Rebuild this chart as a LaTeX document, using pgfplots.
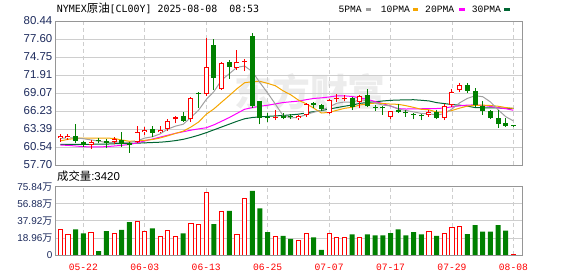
\documentclass[border=0pt]{standalone}
\usepackage{fontspec}
\setmainfont{Liberation Sans}
\newfontfamily\cjk{Noto Sans CJK SC}
\newfontfamily\mono{Liberation Mono}
\newfontfamily\tmono{DejaVu Sans Mono}
\usepackage{pgfplots}
\usepackage{pgfplotstable}
\pgfplotsset{compat=1.18}

\definecolor{kred}{RGB}{255,0,0}
\definecolor{kgreen}{RGB}{0,128,0}
\definecolor{maA}{RGB}{160,160,160}
\definecolor{maB}{RGB}{245,166,0}
\definecolor{maC}{RGB}{255,0,255}
\definecolor{maD}{RGB}{0,102,51}
\definecolor{framec}{RGB}{150,150,150}
\definecolor{gridc}{RGB}{206,206,206}
\definecolor{tickc}{RGB}{28,42,92}

\pgfplotstableread{
i O H L C
0 62.01 62.59 61.38 62.33
1 62.01 62.54 61.65 62.33
4 60.81 61.65 60.23 61.28
7 61.33 62.17 61.01 61.76
10 61.38 63.86 61.22 62.96
11 62.91 63.75 62.44 63.23
13 62.86 63.86 62.70 63.23
14 63.34 64.92 63.12 64.69
15 64.92 65.44 64.28 65.23
17 64.92 68.39 64.54 68.23
19 68.91 77.76 68.60 73.13
21 69.75 73.97 69.54 73.81
23 73.02 75.86 72.70 73.97
24 73.97 74.36 72.54 74.17
28 65.07 66.38 64.80 65.23
31 65.07 65.60 64.80 65.44
32 65.60 67.44 65.33 67.33
35 65.86 68.12 65.75 67.96
36 68.12 68.86 67.69 68.33
37 68.12 68.75 67.80 68.33
39 67.69 68.75 66.70 68.67
43 65.33 66.28 64.92 66.23
48 65.60 66.38 65.33 66.02
50 65.12 67.28 64.80 66.97
51 67.17 69.75 66.91 69.23
52 69.54 70.60 69.28 70.33
}\redC

\pgfplotstableread{
i O H L C
2 62.28 64.17 61.13 61.54
3 61.33 61.44 60.59 60.81
5 61.65 62.01 61.13 61.44
6 61.49 61.85 60.34 61.13
8 61.65 62.96 60.59 61.01
9 61.22 61.33 59.64 60.81
12 63.34 63.86 62.17 62.80
16 65.44 66.12 64.54 64.69
18 69.07 69.23 66.65 68.91
20 76.65 77.55 69.54 71.49
22 74.01 74.28 71.33 73.22
25 78.07 78.54 66.70 67.02
26 67.76 67.86 64.13 65.12
27 65.33 65.96 64.54 65.07
29 65.48 65.86 64.92 65.07
30 65.48 65.75 64.92 65.23
33 67.44 67.65 66.70 67.13
34 67.17 67.33 66.23 66.49
38 68.28 68.49 66.38 66.86
40 68.75 69.65 66.78 66.94
41 66.91 67.17 66.28 66.70
42 66.81 67.02 65.60 66.65
44 66.38 67.28 65.96 66.12
45 66.12 66.38 65.33 65.86
46 65.75 65.96 64.92 65.60
47 65.48 65.75 64.80 65.39
49 66.02 66.38 64.96 65.07
53 70.33 70.60 69.07 69.43
54 69.43 69.81 66.91 67.17
55 67.02 67.76 65.60 66.28
56 66.23 66.38 64.96 65.12
57 65.17 66.38 63.59 64.17
58 64.33 65.17 63.70 63.91
59 63.86 63.86 63.81 63.81
}\greenC

\pgfplotstableread{
i m5 m10 m20 m30
0 61.90 61.50 60.85 60.95
1 62.00 61.75 60.80 60.95
2 62.00 61.90 60.70 60.95
3 61.85 61.95 60.60 60.95
4 61.66 61.95 60.55 60.97
5 61.48 61.95 60.55 61.00
6 61.24 61.95 60.60 61.00
7 61.28 61.90 60.70 61.05
8 61.32 61.65 60.80 61.10
9 61.23 61.44 60.95 61.10
10 61.53 61.51 61.20 61.15
11 61.95 61.60 61.50 61.20
12 62.16 61.72 61.80 61.25
13 62.61 61.97 62.10 61.30
14 63.38 62.31 62.40 61.40
15 63.84 62.69 62.70 61.55
16 64.13 63.04 62.95 61.75
17 65.21 63.69 63.20 62.05
18 66.35 64.48 63.40 62.40
19 68.04 65.71 63.58 62.80
20 69.29 66.56 64.04 63.25
21 71.11 67.62 64.61 63.70
22 72.11 68.66 65.19 64.15
23 73.12 69.74 65.85 64.60
24 73.33 70.69 66.50 65.00
25 72.44 70.86 66.77 65.20
26 70.70 70.91 66.97 65.30
27 69.07 70.59 67.14 65.38
28 67.32 70.22 67.35 65.45
29 65.50 69.42 67.56 65.52
30 65.14 68.79 67.68 65.62
31 65.21 67.95 67.79 65.72
32 65.66 67.37 68.01 65.92
33 66.04 66.68 68.21 66.13
34 66.32 65.91 68.30 66.30
35 66.87 66.01 68.44 66.52
36 67.45 66.33 68.62 66.76
37 67.65 66.65 68.62 66.98
38 67.59 66.82 68.52 67.17
39 68.03 67.18 68.30 67.43
40 67.83 67.35 68.07 67.57
41 67.50 67.47 67.71 67.68
42 67.16 67.41 67.39 67.81
43 67.04 67.32 67.00 67.91
44 66.53 67.28 66.60 67.96
45 66.31 67.07 66.54 67.98
46 66.09 66.80 66.56 68.01
47 65.84 66.50 66.58 67.92
48 65.80 66.42 66.62 67.82
49 65.59 66.06 66.62 67.55
50 65.81 66.06 66.70 67.40
51 66.54 66.31 66.89 67.25
52 67.52 66.68 67.04 67.15
53 68.21 67.00 67.16 67.00
54 68.63 67.11 67.19 66.77
55 68.49 67.15 67.11 66.74
56 67.67 67.10 66.95 66.74
57 66.43 66.98 66.74 66.71
58 65.33 66.77 66.59 66.67
59 64.66 66.64 66.35 66.63
}\maT

\pgfplotstableread{
i v
0 28.5
1 22.9
4 25.2
7 24.1
10 37.7
11 26.6
13 20.7
14 27.8
15 20.7
17 35.2
18 34.0
19 69.6
21 48.9
23 22.9
24 62.9
28 20.7
31 16.7
32 24.1
35 24.1
36 19.6
37 19.6
39 19.6
48 26.6
50 24.1
51 30.7
52 32.2
59 0.6
}\redV

\pgfplotstableread{
i v
2 28.5
3 24.1
5 4.4
6 26.6
8 27.8
9 36.6
12 29.6
16 24.1
20 34.4
22 48.9
25 71.1
26 51.8
27 25.5
29 21.1
30 17.8
33 19.6
34 5.6
38 22.9
40 22.9
41 21.8
42 21.8
43 24.4
44 28.5
45 21.8
46 25.5
47 22.9
49 21.1
53 23.3
54 33.3
55 25.9
56 25.9
57 33.3
58 27.0
}\greenV

\pgfplotsset{
  kax/.style={scale only axis, anchor=south west, width=467.7bp,
    xmin=-0.69, xmax=60.21,
    axis line style={draw=framec, line width=0.9bp},
    major tick length=0pt, tick style={draw=none},
    xtick={3,11,19,27,35,43,51,59},
    xmajorgrids, ymajorgrids,
    x grid style={draw=gridc, dash pattern=on 4bp off 3bp, line width=0.8bp},
    y grid style={draw=gridc, line width=0.8bp},
    yticklabel style={anchor=east, inner sep=0pt, xshift=-2.5bp, text=tickc},
  },
  wick/.style={draw=none, mark=none, forget plot,
    error bars/.cd, y dir=plus, y explicit, error mark=none,
    error bar style={draw=#1, solid, line width=1bp}},
  body/.style 2 args={draw=none, mark=none, forget plot,
    error bars/.cd, y dir=plus, y explicit, error mark=none,
    error bar style={draw=#1, solid, line width=#2}},
}

\begin{document}
\begin{tikzpicture}
\path[use as bounding box] (0,0) rectangle (578bp,276bp);
\node[text=gray!15, font=\cjk\bfseries\fontsize{38}{38}\selectfont, inner sep=0pt] at (310bp,184bp) {东方财富};

\begin{axis}[kax, at={(55bp,111bp)}, height=144bp,
  ymin=57.70, ymax=80.44,
  ytick={57.70,60.54,63.39,66.23,69.07,71.91,74.75,77.60,80.44},
  yticklabels={57.70,60.54,63.39,66.23,69.07,71.91,74.75,77.60,80.44},
  yticklabel style={font=\fontsize{11.5}{12}\selectfont},
  xticklabels={},
]
% moving averages
\addplot[draw=maD, line width=1bp, mark=none] table[x=i,y=m30]{\maT};
\addplot[draw=maC, line width=1bp, mark=none] table[x=i,y=m20]{\maT};
\addplot[draw=maB, line width=1bp, mark=none] table[x=i,y=m10]{\maT};
\addplot[draw=maA, line width=1bp, mark=none] table[x=i,y=m5]{\maT};
% wicks
\addplot[wick=kgreen] table[x=i, y=L, y error expr=\thisrow{H}-\thisrow{L}]{\greenC};
\addplot[wick=kred] table[x=i, y=L, y error expr=\thisrow{H}-\thisrow{L}]{\redC};
% bodies
\addplot[body={kgreen}{5bp}] table[x=i, y expr={min(\thisrow{O},\thisrow{C})}, y error expr={max(abs(\thisrow{C}-\thisrow{O}),0.16)}]{\greenC};
\addplot[body={kred}{5bp}] table[x=i, y expr={min(\thisrow{O},\thisrow{C})}, y error expr={max(abs(\thisrow{C}-\thisrow{O}),0.16)}]{\redC};
\addplot[body={white}{3.2bp}] table[x=i, y expr={min(\thisrow{O},\thisrow{C})+0.158}, y error expr={max(abs(\thisrow{C}-\thisrow{O})-0.316,0)}]{\redC};
\end{axis}

\begin{axis}[kax, at={(55bp,21bp)}, height=68.3bp,
  ymin=0, ymax=75.84,
  ytick={0,18.96,37.92,56.88,75.84},
  yticklabels={0,18.96{\cjk 万},37.92{\cjk 万},56.88{\cjk 万},75.84{\cjk 万}},
  yticklabel style={font=\fontsize{10}{11}\selectfont},
  xticklabels={05-22,06-03,06-13,06-25,07-07,07-17,07-29,08-08},
  xticklabel style={font=\mono\fontsize{9.7}{10}\selectfont, text=kred, anchor=base, inner sep=0pt, yshift=-15bp},
]
\addplot[ybar, bar width=4.2bp, bar shift=0pt, draw=kred, fill=white, line width=0.9bp] table[x=i,y=v]{\redV};
\addplot[ybar, bar width=5bp, bar shift=0pt, draw=none, fill=kgreen] table[x=i,y=v]{\greenV};
\end{axis}

% title
\node[anchor=base west, inner sep=0pt] at (56.7bp,263.5bp) {\tmono\fontsize{9.97}{11}\selectfont NYMEX{\cjk\fontsize{11.5}{12}\selectfont 原油}[CL00Y] 2025-08-08\ \ 08:53};
% legend
\node[anchor=base west, inner sep=0pt, font=\mono\fontsize{9.7}{10}\selectfont] at (338.3bp,263.8bp) {5PMA};
\fill[maA] (365.7bp,265bp) rectangle (371.2bp,267.8bp);
\node[anchor=base west, inner sep=0pt, font=\mono\fontsize{9.7}{10}\selectfont] at (380.7bp,263.8bp) {10PMA};
\fill[maB] (412.7bp,265bp) rectangle (418.2bp,267.8bp);
\node[anchor=base west, inner sep=0pt, font=\mono\fontsize{9.7}{10}\selectfont] at (425bp,263.8bp) {20PMA};
\fill[maC] (459bp,265bp) rectangle (464.5bp,267.8bp);
\node[anchor=base west, inner sep=0pt, font=\mono\fontsize{9.7}{10}\selectfont] at (471.7bp,263.8bp) {30PMA};
\fill[maD] (504.3bp,265bp) rectangle (509.8bp,267.8bp);
% volume caption
\node[anchor=base west, inner sep=0pt] at (57bp,95.5bp) {{\cjk\fontsize{11.4}{12}\selectfont 成交量}{\fontsize{11.5}{12}\selectfont :3420}};
\end{tikzpicture}
\end{document}
